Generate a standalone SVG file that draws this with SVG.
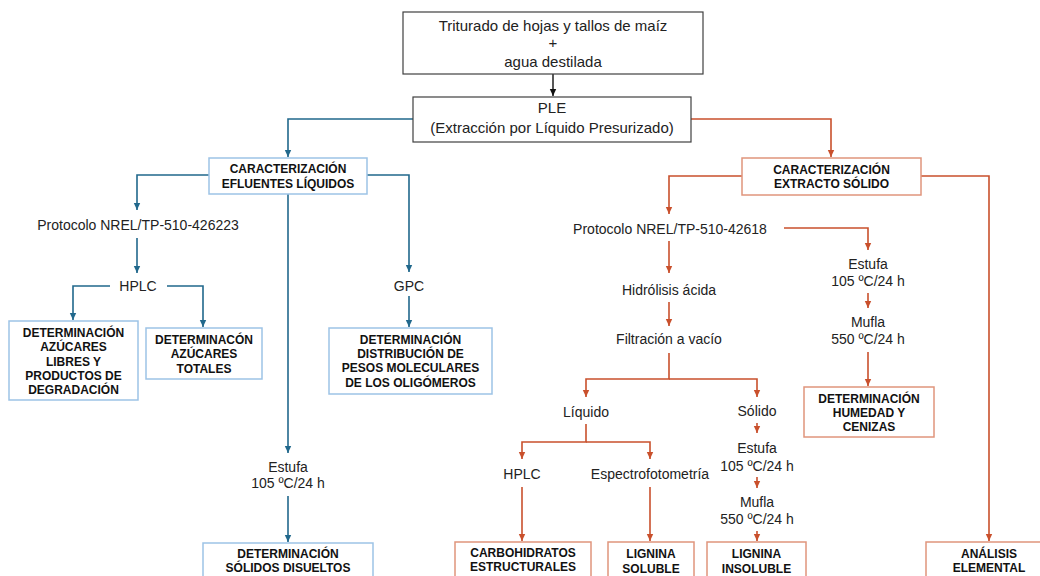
<svg xmlns="http://www.w3.org/2000/svg" width="1040" height="576" viewBox="0 0 1040 576">
<style>
text{font-family:"Liberation Sans",Arial,sans-serif;fill:#222;text-anchor:middle}
.t{font-size:14px}
.t15{font-size:15px}
.b{font-size:12px;font-weight:bold;fill:#111}
.gray{fill:#fff;stroke:#404040;stroke-width:1.2}
.bbox{fill:#fff;stroke:#9DC3E6;stroke-width:1.5}
.obox{fill:#fff;stroke:#E0957C;stroke-width:1.5}
.bl{fill:none;stroke:#21688C;stroke-width:1.6}
.or{fill:none;stroke:#C9502C;stroke-width:1.6}
.k{fill:none;stroke:#111;stroke-width:1.4}
</style>
<defs>
<marker id="ab" markerUnits="userSpaceOnUse" markerWidth="8" markerHeight="8" refX="7" refY="4" orient="auto"><path d="M0,0.8 L7,4 L0,7.2z" fill="#21688C"/></marker>
<marker id="ao" markerUnits="userSpaceOnUse" markerWidth="8" markerHeight="8" refX="7" refY="4" orient="auto"><path d="M0,0.8 L7,4 L0,7.2z" fill="#C9502C"/></marker>
<marker id="ak" markerUnits="userSpaceOnUse" markerWidth="8" markerHeight="8" refX="7" refY="4" orient="auto"><path d="M0,0.8 L7,4 L0,7.2z" fill="#111"/></marker>
</defs>
<g id="connectors">
<path class="k" d="M553,74 V96" marker-end="url(#ak)"/>
<path class="bl" d="M413,119 H288 V157" marker-end="url(#ab)"/>
<path class="bl" d="M209,175 H137 V210" marker-end="url(#ab)"/>
<path class="bl" d="M137,238 V273" marker-end="url(#ab)"/>
<path class="bl" d="M110,286 H73 V320" marker-end="url(#ab)"/>
<path class="bl" d="M167,286 H203 V327" marker-end="url(#ab)"/>
<path class="bl" d="M367,175 H409 V272" marker-end="url(#ab)"/>
<path class="bl" d="M409,296 V327" marker-end="url(#ab)"/>
<path class="bl" d="M288,194 V453" marker-end="url(#ab)"/>
<path class="bl" d="M288,496 V542" marker-end="url(#ab)"/>
<path class="or" d="M691,119 H831 V157" marker-end="url(#ao)"/>
<path class="or" d="M742,176 H669 V214" marker-end="url(#ao)"/>
<path class="or" d="M784,228 H868 V250" marker-end="url(#ao)"/>
<path class="or" d="M868,293 V308" marker-end="url(#ao)"/>
<path class="or" d="M868,352 V386" marker-end="url(#ao)"/>
<path class="or" d="M921,176 H989 V541" marker-end="url(#ao)"/>
<path class="or" d="M669,241 V273" marker-end="url(#ao)"/>
<path class="or" d="M669,302 V326" marker-end="url(#ao)"/>
<path class="or" d="M669,353 V379 H586 V397" marker-end="url(#ao)"/>
<path class="or" d="M669,379 H757 V397" marker-end="url(#ao)"/>
<path class="or" d="M586,424 V442 H522 V459" marker-end="url(#ao)"/>
<path class="or" d="M586,442 H650 V459" marker-end="url(#ao)"/>
<path class="or" d="M522,487 V541" marker-end="url(#ao)"/>
<path class="or" d="M650,487 V541" marker-end="url(#ao)"/>
<path class="or" d="M757,423 V433" marker-end="url(#ao)"/>
<path class="or" d="M757,477 V488" marker-end="url(#ao)"/>
<path class="or" d="M757,531 V541" marker-end="url(#ao)"/>
</g>
<g id="n-triturado"><rect class="gray" x="403" y="12" width="300" height="62"/>
<text class="t15" x="553" y="31">Triturado de hojas y tallos de maíz</text><text class="t15" x="553" y="48">+</text><text class="t15" x="553" y="67">agua destilada</text></g>
<g id="n-ple"><rect class="gray" x="413" y="97" width="278" height="45"/>
<text class="t15" x="552" y="113">PLE</text><text class="t15" x="552" y="133">(Extracción por Líquido Presurizado)</text></g>
<g id="n-efluentes"><rect class="bbox" x="209" y="158" width="158" height="36"/>
<text class="b" x="288" y="172.5">CARACTERIZACIÓN</text><text class="b" x="288" y="187.5">EFLUENTES LÍQUIDOS</text></g>
<g id="n-prot1"><text class="t" x="138" y="230">Protocolo NREL/TP-510-426223</text></g>
<g id="n-hplc1"><text class="t" x="138" y="291">HPLC</text></g>
<g id="n-azlibres"><rect class="bbox" x="9" y="321" width="129" height="79"/>
<text class="b" x="73.5" y="336.5">DETERMINACIÓN</text><text class="b" x="73.5" y="350.5">AZÚCARES</text><text class="b" x="73.5" y="365.5">LIBRES Y</text><text class="b" x="73.5" y="379.5">PRODUCTOS DE</text><text class="b" x="73.5" y="393.5">DEGRADACIÓN</text></g>
<g id="n-aztotales"><rect class="bbox" x="146" y="328" width="116" height="51"/>
<text class="b" x="204" y="343.5">DETERMINACÓN</text><text class="b" x="204" y="357.5">AZÚCARES</text><text class="b" x="204" y="372.5">TOTALES</text></g>
<g id="n-gpc"><text class="t" x="409" y="291">GPC</text></g>
<g id="n-pesos"><rect class="bbox" x="329" y="328" width="163" height="66"/>
<text class="b" x="410.5" y="343.5">DETERMINACIÓN</text><text class="b" x="410.5" y="357.5">DISTRIBUCIÓN DE</text><text class="b" x="410.5" y="371.5">PESOS MOLECULARES</text><text class="b" x="410.5" y="386.5">DE LOS OLIGÓMEROS</text></g>
<g id="n-estufa1"><text class="t" x="288" y="472">Estufa</text><text class="t" x="288" y="488">105 ºC/24 h</text></g>
<g id="n-solidos"><rect class="bbox" x="203" y="543" width="170" height="40"/>
<text class="b" x="288" y="557.5">DETERMINACIÓN</text><text class="b" x="288" y="571.5">SÓLIDOS DISUELTOS</text></g>
<g id="n-extracto"><rect class="obox" x="742" y="158" width="179" height="37"/>
<text class="b" x="831.5" y="173.5">CARACTERIZACIÓN</text><text class="b" x="831.5" y="187.5">EXTRACTO SÓLIDO</text></g>
<g id="n-prot2"><text class="t" x="670" y="234">Protocolo NREL/TP-510-42618</text></g>
<g id="n-estufa2"><text class="t" x="868" y="269">Estufa</text><text class="t" x="868" y="286">105 ºC/24 h</text></g>
<g id="n-mufla2"><text class="t" x="868" y="327">Mufla</text><text class="t" x="868" y="344">550 ºC/24 h</text></g>
<g id="n-humedad"><rect class="obox" x="804" y="387" width="130" height="50"/>
<text class="b" x="869" y="402.5">DETERMINACIÓN</text><text class="b" x="869" y="416.5">HUMEDAD Y</text><text class="b" x="869" y="430.5">CENIZAS</text></g>
<g id="n-analisis"><rect class="obox" x="926" y="542" width="130" height="40"/>
<text class="b" x="989" y="557.5">ANÁLISIS</text><text class="b" x="989" y="571.5">ELEMENTAL</text></g>
<g id="n-hidrolisis"><text class="t" x="669" y="295">Hidrólisis ácida</text></g>
<g id="n-filtracion"><text class="t" x="669" y="344">Filtración a vacío</text></g>
<g id="n-liquido"><text class="t" x="586" y="417">Líquido</text></g>
<g id="n-solido"><text class="t" x="757" y="416">Sólido</text></g>
<g id="n-hplc2"><text class="t" x="522" y="479">HPLC</text></g>
<g id="n-espectro"><text class="t" x="650" y="479">Espectrofotometría</text></g>
<g id="n-estufa3"><text class="t" x="757" y="453">Estufa</text><text class="t" x="757" y="471">105 ºC/24 h</text></g>
<g id="n-mufla3"><text class="t" x="757" y="507">Mufla</text><text class="t" x="757" y="524">550 ºC/24 h</text></g>
<g id="n-carbo"><rect class="obox" x="455" y="542" width="136" height="40"/>
<text class="b" x="523" y="556.5">CARBOHIDRATOS</text><text class="b" x="523" y="570.5">ESTRUCTURALES</text></g>
<g id="n-lsoluble"><rect class="obox" x="608" y="542" width="86" height="40"/>
<text class="b" x="651" y="557.5">LIGNINA</text><text class="b" x="651" y="572.5">SOLUBLE</text></g>
<g id="n-linsoluble"><rect class="obox" x="707" y="542" width="99" height="40"/>
<text class="b" x="756.5" y="557.5">LIGNINA</text><text class="b" x="756.5" y="572.5">INSOLUBLE</text></g>
</svg>
